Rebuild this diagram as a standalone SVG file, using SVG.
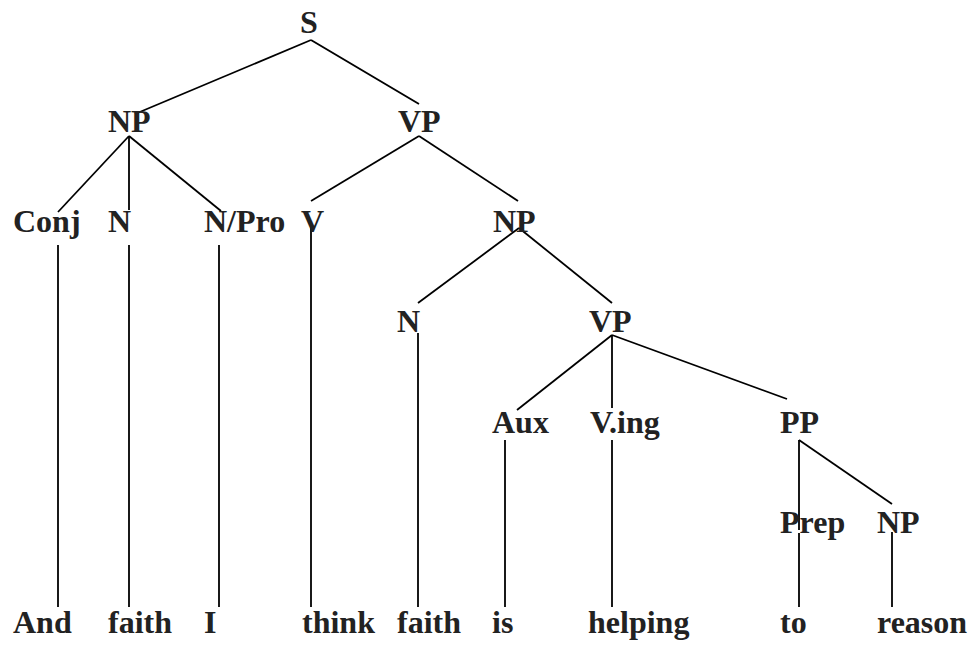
<svg xmlns="http://www.w3.org/2000/svg" width="974" height="646" viewBox="0 0 974 646">
<style>
text{font-family:"Liberation Serif","Times New Roman",serif;font-weight:bold;font-size:32px;fill:#222}
line{stroke:#000;stroke-width:1.8}
</style>
<rect width="974" height="646" fill="#fff"/>
<g id="connectors">
<line x1="311" y1="40" x2="135" y2="114"/>
<line x1="311" y1="40" x2="419" y2="104"/>
<line x1="129" y1="136" x2="58" y2="212"/>
<line x1="129" y1="136" x2="129" y2="210"/>
<line x1="129" y1="136" x2="221" y2="211"/>
<line x1="419" y1="136" x2="311" y2="201"/>
<line x1="419" y1="136" x2="518" y2="201"/>
<line x1="519" y1="228" x2="418" y2="303"/>
<line x1="519" y1="228" x2="612" y2="303"/>
<line x1="612" y1="335" x2="517" y2="410"/>
<line x1="612" y1="335" x2="612" y2="408"/>
<line x1="612" y1="335" x2="787" y2="399"/>
<line x1="799" y1="440" x2="799" y2="530"/>
<line x1="799" y1="440" x2="892" y2="504"/>
<line x1="58" y1="245" x2="58" y2="607"/>
<line x1="129" y1="245" x2="129" y2="607"/>
<line x1="219" y1="245" x2="219" y2="607"/>
<line x1="311" y1="222" x2="311" y2="607"/>
<line x1="418" y1="333" x2="418" y2="607"/>
<line x1="505" y1="440" x2="505" y2="607"/>
<line x1="612" y1="440" x2="612" y2="607"/>
<line x1="799" y1="533" x2="799" y2="607"/>
<line x1="892" y1="532" x2="892" y2="607"/>
</g>
<g id="S"><text x="300" y="33">S</text></g>
<g id="NP1"><text x="108" y="132">NP</text></g>
<g id="VP1"><text x="398" y="132">VP</text></g>
<g id="Conj"><text x="13" y="232">Conj</text></g>
<g id="N1"><text x="108" y="232">N</text></g>
<g id="NPro"><text x="204" y="232">N/Pro</text></g>
<g id="V"><text x="301" y="232">V</text></g>
<g id="NP2"><text x="493" y="232">NP</text></g>
<g id="N2"><text x="397" y="332">N</text></g>
<g id="VP2"><text x="589" y="332">VP</text></g>
<g id="Aux"><text x="492" y="433">Aux</text></g>
<g id="Ving"><text x="590" y="433">V.ing</text></g>
<g id="PP"><text x="780" y="433">PP</text></g>
<g id="Prep"><text x="780" y="533">Prep</text></g>
<g id="NP3"><text x="877" y="533">NP</text></g>
<g id="w-And"><text x="13" y="633">And</text></g>
<g id="w-faith1"><text x="108" y="633">faith</text></g>
<g id="w-I"><text x="204" y="633">I</text></g>
<g id="w-think"><text x="302" y="633">think</text></g>
<g id="w-faith2"><text x="397" y="633">faith</text></g>
<g id="w-is"><text x="492" y="633">is</text></g>
<g id="w-helping"><text x="588" y="633">helping</text></g>
<g id="w-to"><text x="780" y="633">to</text></g>
<g id="w-reason"><text x="877" y="633">reason</text></g>
</svg>
